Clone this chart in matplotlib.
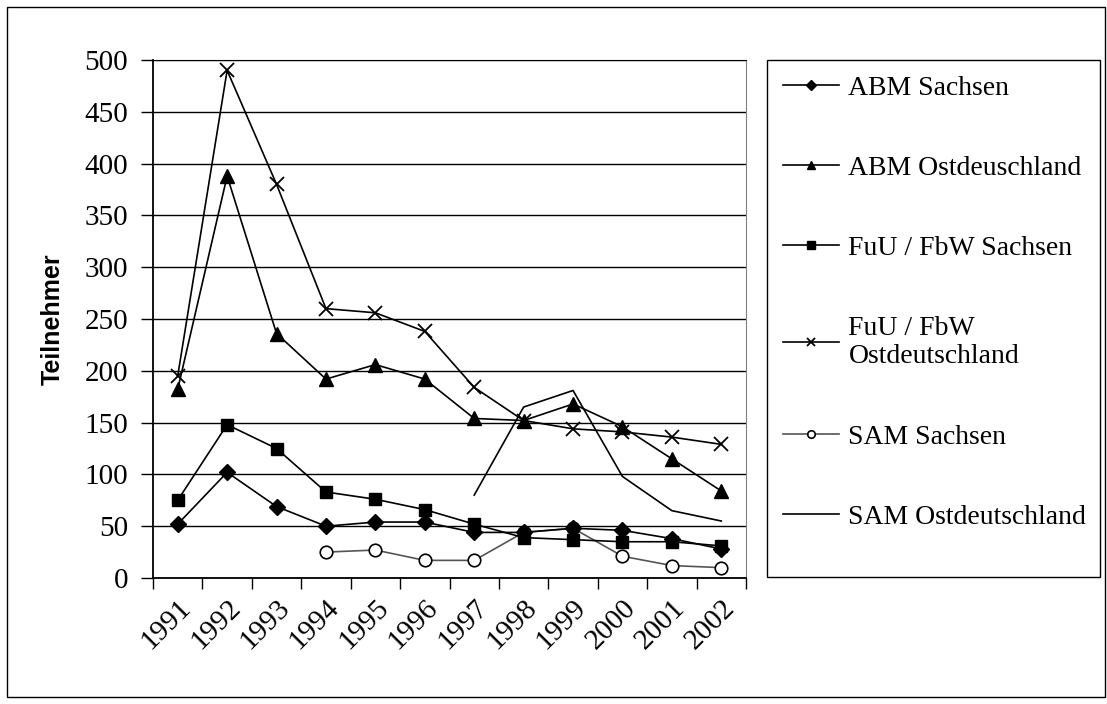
import numpy as np
import matplotlib
matplotlib.use('Agg')
from matplotlib import pyplot as plt
from matplotlib.patches import Rectangle

years = ['1991', '1992', '1993', '1994', '1995', '1996',
         '1997', '1998', '1999', '2000', '2001', '2002']

abm_sachsen = [52, 102, 69, 50, 54, 54, 44, 44, 48, 46, 38, 28]
abm_ost = [182, 388, 236, 192, 206, 192, 154, 152, 168, 146, 115, 84]
fuu_sachsen = [75, 148, 125, 83, 76, 66, 52, 39, 37, 35, 35, 31]
fuu_ost = [195, 490, 380, 260, 256, 238, 184, 152, 144, 141, 136, 129]
sam_sachsen = [np.nan, np.nan, np.nan, 25, 27, 17, 17, 44, 48, 21, 12, 10]
sam_ost = [np.nan, np.nan, np.nan, np.nan, np.nan, np.nan, 80, 165, 181, 98, 65, 55]

serif = 'Liberation Serif'
fs = 21
W, H = 1107, 704

fig = plt.figure(figsize=(W / 100, H / 100), dpi=100)
ax = fig.add_axes([153 / W, 1 - 578 / H, (746 - 153) / W, (578 - 60) / H])

x = np.arange(len(years))
lw = 1.2
ax.plot(x, abm_sachsen, color='black', lw=lw, marker='D', ms=8, label='ABM Sachsen', zorder=5)
ax.plot(x, abm_ost, color='black', lw=lw, marker='^', ms=10, label='ABM Ostdeuschland', zorder=5)
ax.plot(x, fuu_sachsen, color='black', lw=lw, marker='s', ms=9, label='FuU / FbW Sachsen', zorder=5)
ax.plot(x, fuu_ost, color='black', lw=lw, marker='x', ms=10, mew=1.3,
        label='FuU / FbW\nOstdeutschland', zorder=5)
# SAM Sachsen sits underneath the other series, as in the original
ax.plot(x, sam_sachsen, color='#555555', lw=lw, marker='o', ms=9, mfc='white',
        mec='black', mew=1.2, label='SAM Sachsen', zorder=3)
ax.plot(x, sam_ost, color='black', lw=lw, label='SAM Ostdeutschland', zorder=4)

ax.set_xlim(-0.5, len(years) - 0.5)
ax.set_ylim(0, 500)
ax.set_yticks(np.arange(0, 501, 50))
ax.yaxis.grid(True, color='black', lw=1)
ax.set_axisbelow(True)

# tick marks on the category boundaries, labels in the middle
ax.set_xticks(np.arange(-0.5, len(years), 1))
ax.set_xticklabels([])
ax.set_xticks(x, minor=True)
ax.set_xticklabels(years, minor=True, rotation=45, ha='right', rotation_mode='anchor',
                   fontsize=fs, family=serif)
ax.tick_params(axis='x', which='minor', length=0, pad=12)
ax.tick_params(axis='x', which='major', length=8, width=1, direction='out', color='black')
ax.tick_params(axis='y', length=9, width=1, direction='out', labelsize=fs, pad=9)
for t in ax.get_yticklabels():
    t.set_family(serif)

ax.spines['left'].set_linewidth(1.3)
ax.spines['bottom'].set_linewidth(1.3)
ax.spines['top'].set_color('black')
ax.spines['right'].set_color('#808080')

ax.set_ylabel('Teilnehmer', family='Liberation Sans', fontweight='bold', fontsize=18, labelpad=14)

leg = fig.legend(loc='upper left', bbox_to_anchor=(772 / W, 1 - 64 / H),
                 prop={'family': serif, 'size': 20}, frameon=False,
                 handlelength=2.0, handletextpad=0.35, labelspacing=1.97,
                 borderpad=0.4, borderaxespad=0, markerscale=0.6)

# legend frame and chart border
fig.patches.append(Rectangle((767 / W, 1 - 577 / H), (1100 - 767) / W, (577 - 60) / H,
                             transform=fig.transFigure, fill=False, edgecolor='black', lw=1))
fig.patches.append(Rectangle((7 / W, 7 / H), (1105 - 7) / W, (697 - 7) / H,
                             transform=fig.transFigure, fill=False, edgecolor='black', lw=1))

plt.savefig('out.png', dpi=100)
